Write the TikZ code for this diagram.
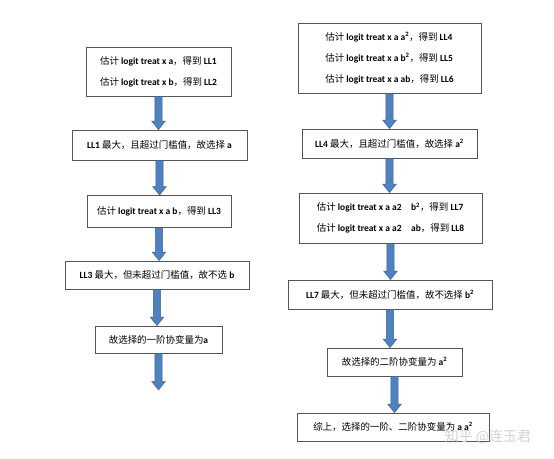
\documentclass[tikz,border=0pt]{standalone}
\usepackage{fontspec}
\setmainfont{Carlito}
\newfontfamily\cjk{Noto Sans CJK SC}
\usetikzlibrary{calc}
\newcommand\zh[1]{{\cjk\mdseries #1}}
\newcommand\sq{\textsuperscript{2}}
\definecolor{arrowblue}{HTML}{4F81BD}
\definecolor{arrowedge}{HTML}{3A6696}
\definecolor{boxedge}{HTML}{555555}
\tikzset{
  box/.style={draw=boxedge, line width=0.8bp, fill=white, inner sep=0pt, align=left, font=\fontsize{9.5}{21}\selectfont\bfseries},
  fat/.style={fill=arrowblue, draw=arrowedge, line width=0.5bp},
}
\newcommand\fatarrow[2]{%
  \path let \p1=(#1.south), \p2=(#2) in
    [fat] (\x1-3.6bp,\y1) -- (\x1+3.6bp,\y1) -- (\x1+3.6bp,\y2+8.5bp) -- (\x1+6.8bp,\y2+8.5bp)
    -- (\x1,\y2) -- (\x1-6.8bp,\y2+8.5bp) -- (\x1-3.6bp,\y2+8.5bp) -- cycle;}
\begin{document}
\begin{tikzpicture}[x=1bp,y=-1bp]
\useasboundingbox[fill=white] (0,0) rectangle (554,459);
% left column
\node[box, minimum width=145bp, minimum height=49bp] (L1) at (158.5,71.5)
  {\zh{估计} logit treat x a\zh{，得到} LL1\\ \zh{估计} logit treat x b\zh{，得到} LL2};
\node[box, minimum width=175bp, minimum height=30bp] (L2) at (159.5,145)
  {LL1 \zh{最大，且超过门槛值，故选择} a};
\node[box, minimum width=144bp, minimum height=32bp] (L3) at (159,211.5)
  {\zh{估计} logit treat x a b\zh{，得到} LL3};
\node[box, minimum width=184bp, minimum height=28bp] (L4) at (157,275)
  {LL3 \zh{最大，但未超过门槛值，故不选} b};
\node[box, minimum width=127bp, minimum height=27bp] (L5) at (158.5,339.5)
  {\zh{故选择的一阶协变量为}a};
\coordinate (Lend) at (158.5,390);
% right column
\node[box, minimum width=183bp, minimum height=70bp] (R1) at (389.5,58)
  {\zh{估计} logit treat x a a\sq\zh{，得到} LL4\\ \zh{估计} logit treat x a b\sq\zh{，得到} LL5\\ \zh{估计} logit treat x a ab\zh{，得到} LL6};
\node[box, minimum width=175bp, minimum height=29bp] (R2) at (389.5,143.5)
  {LL4 \zh{最大，且超过门槛值，故选择} a\sq};
\node[box, minimum width=183bp, minimum height=50bp] (R3) at (390.5,218)
  {\zh{估计} logit treat x a a2\quad b\sq\zh{，得到} LL7\\ \zh{估计} logit treat x a a2\quad ab\zh{，得到} LL8};
\node[box, minimum width=204bp, minimum height=29bp] (R4) at (390,294.5)
  {LL7 \zh{最大，但未超过门槛值，故不选择} b\sq};
\node[box, minimum width=135bp, minimum height=28bp] (R5) at (394.5,362)
  {\zh{故选择的二阶协变量为} a\sq};
\node[box, minimum width=192bp, minimum height=28bp] (R6) at (393,427)
  {\zh{综上，选择的一阶、二阶协变量为} a a\sq};
% arrows
\fatarrow{L1}{L2.north}
\fatarrow{L2}{L3.north}
\fatarrow{L3}{L4.north}
\fatarrow{L4}{L5.north}
\fatarrow{L5}{Lend}
\fatarrow{R1}{R2.north}
\fatarrow{R2}{R3.north}
\fatarrow{R3}{R4.north}
\fatarrow{R4}{R5.north}
\fatarrow{R5}{R6.north}
% watermark
\node[text=gray!35, font=\cjk\fontsize{14}{14}\selectfont, inner sep=0pt] (wm) at (488,437) {知乎 @连玉君};
\end{tikzpicture}
\end{document}
